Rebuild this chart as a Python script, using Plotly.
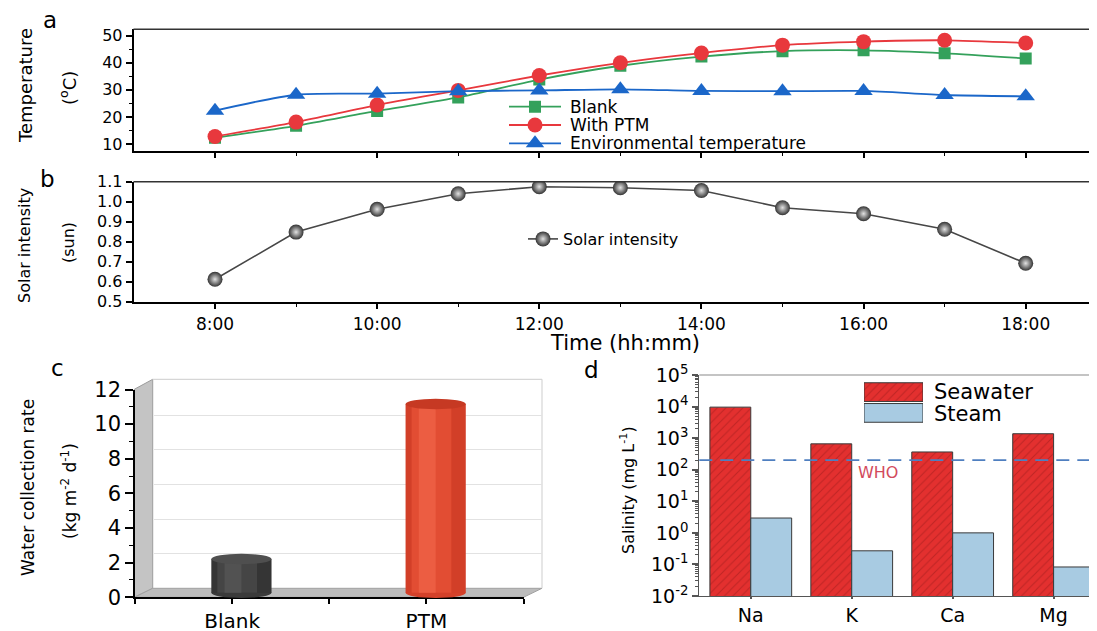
import plotly.graph_objects as go

W, H = 1097, 631
FONT = "DejaVu Sans, Liberation Sans, Arial, sans-serif"

# ---------------- data ----------------
hours = [8, 9, 10, 11, 12, 13, 14, 15, 16, 17, 18]
temp_blank = [12.3, 16.7, 22.2, 27.2, 33.8, 38.9, 42.3, 44.3, 44.6, 43.5, 41.6]
temp_ptm = [12.8, 18.1, 24.4, 29.8, 35.3, 40.0, 43.6, 46.5, 47.8, 48.3, 47.3]
temp_env = [22.3, 28.2, 28.6, 29.5, 29.8, 30.2, 29.6, 29.5, 29.6, 28.1, 27.6]
solar = [0.612, 0.848, 0.962, 1.04, 1.075, 1.07, 1.056, 0.97, 0.94, 0.862, 0.692]

rate_labels = ["Blank", "PTM"]
rate_values = [1.95, 10.9]

ions = ["Na", "K", "Ca", "Mg"]
seawater = [9600, 660, 365, 1380]
steam = [2.95, 0.27, 1.0, 0.083]
who_limit = 200

# ---------------- helpers (reference pixel -> paper) ----------------
# the page body adds an 8 px margin, so shift everything up/left by 8 px
OFF = 8

def fx(p):
    return (p - OFF) / W

def fy(p):
    return 1 - (p - OFF) / H

GREEN = "#34a15b"
RED = "#e8383d"
BLUE = "#1b67c9"
SEA_RED = "#e3302f"
STEAM_BLUE = "#a8cbe2"

fig = go.Figure()

# ---------------- panel a ----------------
series_a = [
    ("Blank", temp_blank, GREEN, "square", 12),
    ("With PTM", temp_ptm, RED, "circle", 15),
    ("Environmental temperature", temp_env, BLUE, "triangle-up", 16),
]
for name, vals, col, sym, size in series_a:
    fig.add_trace(go.Scatter(
        x=hours, y=vals, name=name, mode="lines+markers",
        line=dict(color=col, width=1.8, shape="spline", smoothing=0.7),
        marker=dict(symbol=sym, size=size, color=col, line=dict(width=0)),
        xaxis="x", yaxis="y", showlegend=False))

# legend swatches of panel a (hidden axis)
for r, (name, vals, col, sym, size) in enumerate(series_a):
    fig.add_trace(go.Scatter(
        x=[0, 1], y=[r, r], mode="lines", line=dict(color=col, width=1.8),
        xaxis="x8", yaxis="y8", showlegend=False, hoverinfo="skip"))
    fig.add_trace(go.Scatter(
        x=[0.5], y=[r], mode="markers",
        marker=dict(symbol=sym, size=size, color=col, opacity=1, line=dict(width=0)),
        xaxis="x8", yaxis="y8", showlegend=False, hoverinfo="skip"))

# ---------------- panel b ----------------
fig.add_trace(go.Scatter(
    x=hours, y=solar, name="Solar intensity", mode="lines+markers",
    line=dict(color="#474747", width=1.6),
    marker=dict(size=15, color="#333333",
                gradient=dict(type="radial", color="#e2e2e2"), line=dict(width=0)),
    xaxis="x2", yaxis="y2", legend="legend2", showlegend=True))

# ---------------- panel c ----------------
fig.add_trace(go.Scatter(x=[None], y=[None], xaxis="x3", yaxis="y3",
                         showlegend=False, hoverinfo="skip"))
fig.add_trace(go.Scatter(x=[None], y=[None], xaxis="x4", yaxis="y4",
                         showlegend=False, hoverinfo="skip"))
idx = list(range(len(rate_labels)))
CW = 0.31
cyl_layers = [
    (1.00, -0.50, ["#353535", "#d23f28"]),
    (0.66, -0.40, ["#454545", "#e24d33"]),
    (0.28, -0.28, ["#525252", "#ec5d42"]),
]
for frac, off, cols in cyl_layers:
    fig.add_trace(go.Bar(
        x=idx, y=rate_values, width=CW * frac, offset=CW * off,
        marker=dict(color=cols, line=dict(width=0)),
        xaxis="x5", yaxis="y5", showlegend=False, hoverinfo="skip"))

# ---------------- panel d ----------------
BW = 0.405
fig.add_trace(go.Bar(
    x=ions, y=seawater, name="Seawater", width=BW, offset=-BW,
    marker=dict(color=SEA_RED, line=dict(color="#3a3a3a", width=1),
                pattern=dict(shape="/", fgcolor="#9a1b1b", bgcolor=SEA_RED,
                             size=6, solidity=0.18)),
    xaxis="x6", yaxis="y6", showlegend=False))
fig.add_trace(go.Bar(
    x=ions, y=steam, name="Steam", width=BW, offset=0,
    marker=dict(color=STEAM_BLUE, line=dict(color="#3a3a3a", width=1)),
    xaxis="x6", yaxis="y6", showlegend=False))

# legend swatches for panel d (hidden axis)
fig.add_trace(go.Bar(
    y=["Seawater"], x=[1], orientation="h", width=0.9, offset=-0.45,
    marker=dict(color=SEA_RED, line=dict(color="#3a3a3a", width=1),
                pattern=dict(shape="/", fgcolor="#9a1b1b", bgcolor=SEA_RED,
                             size=6, solidity=0.18)),
    xaxis="x7", yaxis="y7", showlegend=False, hoverinfo="skip"))
fig.add_trace(go.Bar(
    y=["Steam"], x=[1], orientation="h", width=0.9, offset=-0.45,
    marker=dict(color=STEAM_BLUE, line=dict(color="#3a3a3a", width=1)),
    xaxis="x7", yaxis="y7", showlegend=False, hoverinfo="skip"))

# ---------------- axes ----------------
AX = dict(showgrid=False, zeroline=False, showline=True, linecolor="black",
          linewidth=1.5, ticks="outside", tickcolor="black", tickwidth=1.5,
          automargin=False,
          tickfont=dict(family=FONT, size=16, color="black"))

x_left, x_right = 133.5, 1097
px_per_h = 81.07
x_range = [8 - (215 - x_left) / px_per_h, 18 + (x_right - 1025.7) / px_per_h]

LEG_ROW = 18.3
leg_rows = [106.7, 125.0, 143.3]

even_hours = [h for h in hours if h % 2 == 0]
layout = dict(
    width=W, height=H, autosize=False,
    margin=dict(l=0, r=0, t=0, b=0, pad=0, autoexpand=False),
    paper_bgcolor="white", plot_bgcolor="rgba(0,0,0,0)",
    font=dict(family=FONT, color="black"),
    showlegend=True,
    xaxis=dict(AX, domain=[fx(x_left), fx(x_right)], range=x_range, anchor="y",
               tickmode="array", tickvals=even_hours, ticklen=6,
               showticklabels=False,
               minor=dict(tickmode="array", tickvals=hours, ticks="outside",
                          ticklen=4, tickcolor="black", tickwidth=1.2)),
    yaxis=dict(AX, domain=[fy(150.7), fy(29.3)], range=[7.53, 52.36],
               anchor="x", dtick=10, tick0=0, ticklen=6,
               minor=dict(dtick=5, tick0=0, ticks="outside", ticklen=3,
                          tickcolor="black", tickwidth=1.2)),
    xaxis2=dict(AX, domain=[fx(x_left), fx(x_right)], range=x_range, anchor="y2",
                tickmode="array", tickvals=even_hours,
                ticktext=[f"{h}:00" for h in even_hours], ticklen=6,
                tickfont=dict(family=FONT, size=17, color="black"),
                minor=dict(tickmode="array", tickvals=hours, ticks="outside",
                           ticklen=4, tickcolor="black", tickwidth=1.2)),
    yaxis2=dict(AX, domain=[fy(301.7), fy(181.7)], range=[0.5, 1.1],
                anchor="x2", dtick=0.1, tick0=0.5, tickformat=".1f", ticklen=6),
    xaxis3=dict(AX, domain=[fx(135), fx(523.5)], range=[-0.5, 1.5], anchor="y3",
                tickmode="array", tickvals=[-0.5, 0, 0.5, 1, 1.5],
                ticktext=["", rate_labels[0], "", rate_labels[1], ""], ticklen=5,
                tickfont=dict(family=FONT, size=20, color="black")),
    yaxis3=dict(AX, domain=[fy(597.3), fy(389.5)], range=[0, 12], anchor="x3",
                dtick=2, tick0=0, ticklen=8,
                tickfont=dict(family=FONT, size=21, color="black"),
                minor=dict(dtick=1, tick0=0, ticks="outside", ticklen=4,
                           tickcolor="black", tickwidth=1.2)),
    xaxis4=dict(domain=[fx(153.5), fx(542)], range=[-0.5, 1.5], anchor="y4",
                visible=False),
    yaxis4=dict(domain=[fy(588.3), fy(380.5)], range=[0, 12], anchor="x4",
                showgrid=True, gridcolor="#e2e2e2", gridwidth=1.2,
                tickmode="array", tickvals=[2, 4, 6, 8, 10],
                showticklabels=False, ticks="", showline=False, zeroline=False),
    xaxis5=dict(domain=[fx(144.3), fx(532.8)], range=[-0.5, 1.5], anchor="y5",
                visible=False),
    yaxis5=dict(domain=[fy(603.2), fy(385)], range=[-0.6, 12], anchor="x5",
                visible=False),
    xaxis6=dict(AX, domain=[fx(699.3), fx(1097)], range=[-0.51, 3.43], anchor="y6",
                type="category", linecolor="#555555", linewidth=1.2,
                ticklen=2, tickcolor="#555555",
                tickfont=dict(family=FONT, size=19, color="black")),
    yaxis6=dict(AX, domain=[fy(596), fy(375)], type="log", range=[-2, 5],
                anchor="x6", linecolor="#555555", linewidth=1.2,
                tickcolor="#555555", ticklen=6,
                tickmode="array", tickvals=[10 ** k for k in range(-2, 6)],
                ticktext=[f"10<sup>{k}</sup>" for k in range(-2, 6)],
                tickfont=dict(family=FONT, size=19, color="black"),
                minor=dict(ticks="outside", ticklen=3, dtick="D1",
                           tickcolor="#555555", tickwidth=1)),
    xaxis7=dict(domain=[fx(864), fx(923)], range=[0, 1], anchor="y7", visible=False),
    yaxis7=dict(domain=[fy(423.3), fy(381.7)], range=[-0.5, 1.5], anchor="x7",
                visible=False, type="category",
                categoryorder="array", categoryarray=["Steam", "Seawater"]),
    xaxis8=dict(domain=[fx(509), fx(561)], range=[0, 1], anchor="y8", visible=False),
    yaxis8=dict(domain=[fy(leg_rows[-1] + LEG_ROW / 2), fy(leg_rows[0] - LEG_ROW / 2)],
                range=[len(series_a) - 0.5, -0.5], anchor="x8", visible=False),
    barmode="overlay",
    legend2=dict(x=fx(523), y=fy(222), xanchor="left", yanchor="top",
                 bgcolor="rgba(0,0,0,0)", font=dict(family=FONT, size=16),
                 itemwidth=30),
)
fig.update_layout(**layout)

# ---------------- shapes ----------------
shapes = []
# top borders of panels a, b, d
for xr, yr, col, w in [("x", "y", "#333333", 1.5), ("x2", "y2", "#333333", 1.5),
                       ("x6", "y6", "#8a8a8a", 1.2)]:
    shapes.append(dict(type="line", xref=f"{xr} domain", yref=f"{yr} domain",
                       x0=0, x1=1, y0=1, y1=1, line=dict(color=col, width=w)))

# 3D frame of panel c (side wall, floor, back wall outline)
def path(points):
    return "M " + " L ".join(f"{fx(a):.5f},{fy(b):.5f}" for a, b in points) + " Z"

shapes.append(dict(type="path", xref="paper", yref="paper", layer="below",
                   path=path([(134.3, 597.3), (134.3, 389.3), (152.7, 379.3), (152.7, 588.3)]),
                   fillcolor="#c4c4c4", line=dict(color="#9c9c9c", width=1)))
shapes.append(dict(type="path", xref="paper", yref="paper", layer="below",
                   path=path([(134.3, 597.3), (152.7, 588.3), (542, 588.3), (523.5, 597.3)]),
                   fillcolor="#bcbcbc", line=dict(color="#a0a0a0", width=1)))
shapes.append(dict(type="line", xref="paper", yref="paper", layer="below",
                   x0=fx(152.7), x1=fx(542), y0=fy(379.3), y1=fy(379.3),
                   line=dict(color="#d6d6d6", width=1.2)))
shapes.append(dict(type="line", xref="paper", yref="paper", layer="below",
                   x0=fx(542), x1=fx(542), y0=fy(379.3), y1=fy(588.3),
                   line=dict(color="#d6d6d6", width=1.2)))

# cylinder caps
CAP_H = 0.3
top_cols = ["#4f4f4f", "#c63923"]
base_cols = ["#3a3a3a", "#d4412a"]
for i, v in zip(idx, rate_values):
    shapes.append(dict(type="circle", xref="x5", yref="y5", layer="below",
                       x0=i - CW / 2, x1=i + CW / 2, y0=-CAP_H, y1=CAP_H,
                       fillcolor=base_cols[i], line=dict(width=0)))
    shapes.append(dict(type="circle", xref="x5", yref="y5", layer="above",
                       x0=i - CW / 2, x1=i + CW / 2, y0=v - CAP_H, y1=v + CAP_H,
                       fillcolor=top_cols[i], line=dict(width=0)))

# WHO limit line
shapes.append(dict(type="line", xref="x6 domain", yref="y6", x0=0, x1=1,
                   y0=who_limit, y1=who_limit,
                   line=dict(color="#4f7fc0", width=1.8, dash="13px,8px")))

fig.update_layout(shapes=shapes)

# ---------------- annotations ----------------
ann = []
def text(x, y, s, size, angle=0, anchor="center", color="black"):
    ann.append(dict(x=fx(x), y=fy(y), xref="paper", yref="paper", text=s,
                    showarrow=False, textangle=angle, xanchor=anchor,
                    yanchor="middle", font=dict(family=FONT, size=size, color=color)))

text(50, 20, "a", 23)
text(47, 179, "b", 23)
text(57, 368, "c", 23)
text(591, 370, "d", 23)

text(25, 86, "Temperature", 18, -90)
text(68, 88, "(<sup>o</sup>C)", 18, -90)
text(25, 246, "Solar intensity", 16, -90)
text(68, 243, "(sun)", 16, -90)
text(625, 343, "Time (hh:mm)", 21)
text(28, 488, "Water collection rate", 17, -90)
text(69, 491, "(kg m<sup>-2</sup> d<sup>-1</sup>)", 17, -90)
text(627, 490, "Salinity (mg L<sup>-1</sup>)", 16, -90)

for (name, *_), yrow in zip(series_a, leg_rows):
    text(568, yrow, name, 17, anchor="left")

text(932, 391.7, "Seawater", 21, anchor="left")
text(932, 414, "Steam", 21, anchor="left")
text(878, 472, "WHO", 16, color="#d24a5c")

fig.update_layout(annotations=ann)

fig.write_html("out.html")
